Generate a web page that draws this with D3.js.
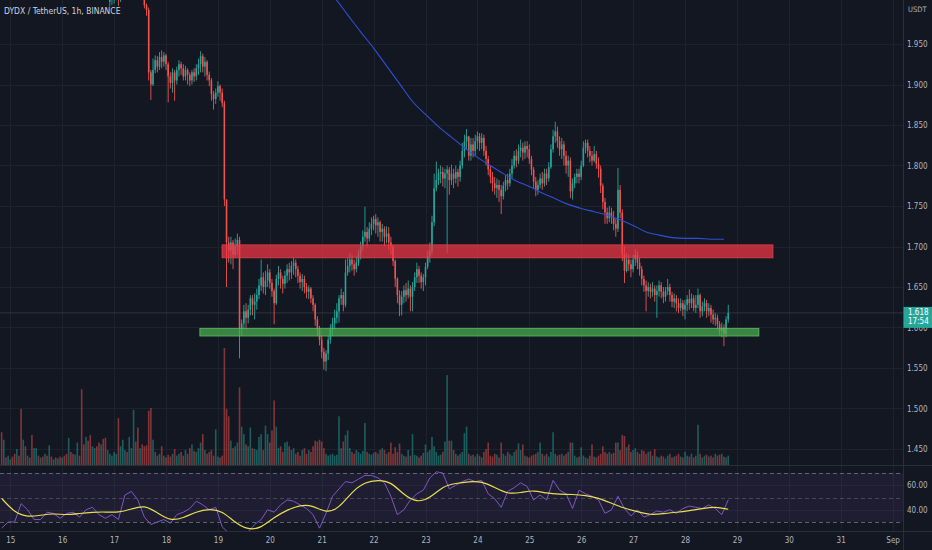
<!DOCTYPE html>
<html>
<head>
<meta charset="utf-8">
<script src="https://cdn.jsdelivr.net/npm/d3@7"></script>
<style>
  html, body { margin: 0; padding: 0; background: #131722; }
  svg { display: block; }
  text { font-family: "Liberation Sans Narrow", "DejaVu Sans Condensed", "Roboto Condensed", "Liberation Sans", sans-serif; }
</style>
</head>
<body>
<div id="chart"></div>
<script>
// ---- data ----
var title = "DYDX / TetherUS, 1h, BINANCE";
var currency = "USDT";
var countdown = "17:54";

// hourly candles, first one at Aug 16 22:00
var firstOpen = 2.002;
var closes = [
  2.005, 2.008, 2.010, 2.012, 2.006, 2.010, 2.015, 2.020, 2.018, 2.022, 2.025, 2.030, 2.018, 2.012, 2.016, 2.010,
  1.998, 1.992, 1.915, 1.900, 1.918, 1.930, 1.922, 1.934, 1.928, 1.936,
  1.925, 1.910, 1.902, 1.915, 1.905, 1.918, 1.925, 1.920, 1.910, 1.918, 1.912, 1.905, 1.915, 1.910, 1.920, 1.925,
  1.935, 1.922, 1.928, 1.912, 1.905, 1.888, 1.882, 1.890, 1.898, 1.890, 1.877, 1.758, 1.705, 1.695, 1.705, 1.690, 1.700, 1.708,
  1.598, 1.605, 1.620, 1.612, 1.622, 1.636, 1.628, 1.632, 1.640, 1.652, 1.662, 1.650, 1.658, 1.668,
  1.655, 1.645, 1.630, 1.660, 1.668, 1.660, 1.654, 1.664, 1.672, 1.668, 1.676, 1.680, 1.672, 1.664, 1.656, 1.660, 1.650, 1.644, 1.648, 1.636, 1.628, 1.610, 1.598, 1.585,
  1.570, 1.558, 1.568, 1.585, 1.598, 1.605, 1.612, 1.620, 1.636, 1.640, 1.628, 1.668, 1.676, 1.684, 1.678, 1.672, 1.680, 1.690, 1.700, 1.712,
  1.718, 1.710, 1.722, 1.728, 1.734, 1.726, 1.730, 1.718, 1.722, 1.712, 1.716, 1.705, 1.700, 1.682, 1.660, 1.640,
  1.628, 1.638, 1.646, 1.640, 1.648, 1.638, 1.650, 1.662, 1.672, 1.664, 1.656, 1.662, 1.675, 1.688, 1.695, 1.730,
  1.772, 1.782, 1.790, 1.792, 1.784, 1.790, 1.795, 1.782, 1.790, 1.784, 1.792, 1.786, 1.800, 1.818, 1.830, 1.836,
  1.812, 1.826, 1.818, 1.830, 1.836, 1.828, 1.834, 1.818, 1.808, 1.795, 1.786, 1.778, 1.772, 1.776, 1.770, 1.762,
  1.775, 1.782, 1.778, 1.790, 1.800, 1.812, 1.806, 1.818, 1.822, 1.816, 1.824, 1.820, 1.808, 1.795, 1.780, 1.770,
  1.776, 1.784, 1.778, 1.790, 1.784, 1.798, 1.820, 1.836, 1.842, 1.830, 1.820, 1.826, 1.812, 1.800, 1.806, 1.768,
  1.778, 1.786, 1.790, 1.786, 1.800, 1.822, 1.828, 1.818, 1.812, 1.806, 1.814, 1.802, 1.796, 1.775, 1.755, 1.742,
  1.735, 1.742, 1.736, 1.728, 1.722, 1.770, 1.742, 1.690, 1.670, 1.684, 1.678, 1.672, 1.684, 1.690, 1.680, 1.672,
  1.660, 1.652, 1.645, 1.650, 1.644, 1.648, 1.640, 1.645, 1.652, 1.644, 1.638, 1.645, 1.650, 1.640, 1.632, 1.636,
  1.630, 1.624, 1.630, 1.622, 1.628, 1.635, 1.630, 1.636, 1.624, 1.628, 1.640, 1.620, 1.626, 1.630, 1.620, 1.624,
  1.616, 1.610, 1.612, 1.604, 1.596, 1.600, 1.592, 1.610, 1.618
];
var highs = [
  2.015, 2.012, 2.020, 2.018, 2.015, 2.016, 2.022, 2.026, 2.025, 2.030, 2.032, 2.034, 2.030, 2.024, 2.024, 2.020,
  2.012, 2.000, 1.995, 1.918, 1.932, 1.936, 1.935, 1.940, 1.942, 1.940,
  1.938, 1.928, 1.915, 1.920, 1.918, 1.922, 1.930, 1.928, 1.925, 1.923, 1.920, 1.915, 1.918, 1.920, 1.925, 1.932,
  1.941, 1.938, 1.934, 1.930, 1.916, 1.908, 1.892, 1.895, 1.904, 1.900, 1.895, 1.880, 1.758, 1.712, 1.712, 1.708, 1.710, 1.716,
  1.712, 1.610, 1.628, 1.630, 1.628, 1.640, 1.640, 1.642, 1.648, 1.660, 1.684, 1.668, 1.670, 1.678,
  1.672, 1.660, 1.648, 1.665, 1.676, 1.672, 1.664, 1.670, 1.678, 1.680, 1.682, 1.686, 1.684, 1.676, 1.668, 1.666, 1.664, 1.655, 1.652, 1.650, 1.640, 1.630, 1.614, 1.602,
  1.590, 1.575, 1.572, 1.590, 1.604, 1.612, 1.622, 1.630, 1.640, 1.648, 1.644, 1.684, 1.686, 1.692, 1.690, 1.684, 1.688, 1.696, 1.706, 1.720,
  1.749, 1.724, 1.730, 1.736, 1.738, 1.740, 1.736, 1.732, 1.728, 1.725, 1.725, 1.724, 1.712, 1.702, 1.684, 1.662,
  1.646, 1.645, 1.652, 1.655, 1.658, 1.652, 1.656, 1.668, 1.680, 1.676, 1.668, 1.666, 1.680, 1.695, 1.705, 1.738,
  1.790, 1.805, 1.796, 1.800, 1.798, 1.796, 1.800, 1.798, 1.801, 1.796, 1.800, 1.796, 1.806, 1.828, 1.838, 1.845,
  1.836, 1.834, 1.834, 1.838, 1.842, 1.840, 1.840, 1.838, 1.824, 1.812, 1.800, 1.792, 1.786, 1.784, 1.782, 1.776,
  1.780, 1.788, 1.790, 1.796, 1.808, 1.818, 1.820, 1.826, 1.832, 1.828, 1.830, 1.830, 1.826, 1.812, 1.798, 1.786,
  1.782, 1.790, 1.792, 1.796, 1.796, 1.804, 1.826, 1.844, 1.854, 1.848, 1.836, 1.834, 1.830, 1.818, 1.812, 1.810,
  1.784, 1.790, 1.796, 1.796, 1.806, 1.830, 1.832, 1.832, 1.824, 1.818, 1.824, 1.818, 1.810, 1.800, 1.778, 1.760,
  1.748, 1.750, 1.748, 1.744, 1.734, 1.797, 1.776, 1.746, 1.700, 1.692, 1.690, 1.684, 1.690, 1.697, 1.694, 1.686,
  1.676, 1.664, 1.658, 1.656, 1.654, 1.656, 1.652, 1.652, 1.658, 1.656, 1.650, 1.650, 1.660, 1.654, 1.644, 1.642,
  1.640, 1.636, 1.636, 1.634, 1.634, 1.640, 1.647, 1.642, 1.640, 1.640, 1.648, 1.642, 1.632, 1.636, 1.634, 1.630,
  1.628, 1.622, 1.618, 1.616, 1.608, 1.606, 1.604, 1.614, 1.628
];
var lows = [
  1.996, 1.998, 2.000, 2.004, 1.997, 2.002, 2.006, 2.012, 2.010, 2.014, 2.017, 2.020, 2.010, 2.006, 2.008, 2.006,
  1.994, 1.985, 1.905, 1.881, 1.898, 1.914, 1.915, 1.918, 1.920, 1.922,
  1.918, 1.878, 1.895, 1.890, 1.880, 1.900, 1.910, 1.912, 1.905, 1.905, 1.900, 1.898, 1.900, 1.903, 1.905, 1.912,
  1.915, 1.915, 1.910, 1.905, 1.898, 1.880, 1.869, 1.876, 1.885, 1.880, 1.872, 1.750, 1.650, 1.680, 1.678, 1.672, 1.686, 1.690,
  1.562, 1.590, 1.598, 1.598, 1.605, 1.615, 1.615, 1.610, 1.622, 1.635, 1.645, 1.642, 1.640, 1.650,
  1.648, 1.638, 1.604, 1.628, 1.652, 1.648, 1.642, 1.648, 1.655, 1.658, 1.660, 1.665, 1.662, 1.655, 1.648, 1.645, 1.642, 1.636, 1.635, 1.630, 1.620, 1.602, 1.590, 1.578,
  1.562, 1.548, 1.546, 1.560, 1.580, 1.590, 1.598, 1.605, 1.606, 1.628, 1.620, 1.625, 1.664, 1.668, 1.670, 1.664, 1.668, 1.676, 1.684, 1.695,
  1.706, 1.700, 1.706, 1.714, 1.720, 1.716, 1.712, 1.706, 1.706, 1.700, 1.704, 1.696, 1.690, 1.676, 1.650, 1.630,
  1.614, 1.615, 1.630, 1.632, 1.636, 1.620, 1.620, 1.645, 1.655, 1.655, 1.648, 1.645, 1.652, 1.672, 1.680, 1.690,
  1.725, 1.768, 1.776, 1.778, 1.774, 1.772, 1.692, 1.764, 1.776, 1.772, 1.778, 1.774, 1.780, 1.796, 1.810, 1.820,
  1.806, 1.806, 1.810, 1.812, 1.820, 1.818, 1.820, 1.812, 1.800, 1.788, 1.778, 1.768, 1.764, 1.760, 1.755, 1.740,
  1.758, 1.768, 1.770, 1.774, 1.784, 1.796, 1.798, 1.802, 1.810, 1.806, 1.808, 1.810, 1.802, 1.788, 1.772, 1.762,
  1.764, 1.772, 1.770, 1.774, 1.776, 1.780, 1.796, 1.816, 1.828, 1.822, 1.812, 1.808, 1.800, 1.790, 1.786, 1.760,
  1.758, 1.772, 1.778, 1.778, 1.782, 1.798, 1.815, 1.810, 1.804, 1.800, 1.804, 1.796, 1.785, 1.766, 1.746, 1.728,
  1.728, 1.730, 1.728, 1.720, 1.712, 1.718, 1.735, 1.682, 1.655, 1.668, 1.670, 1.662, 1.668, 1.676, 1.672, 1.664,
  1.652, 1.644, 1.620, 1.638, 1.636, 1.638, 1.632, 1.612, 1.638, 1.636, 1.630, 1.632, 1.640, 1.632, 1.625, 1.624,
  1.620, 1.618, 1.620, 1.614, 1.610, 1.620, 1.622, 1.624, 1.620, 1.618, 1.624, 1.612, 1.614, 1.620, 1.612, 1.614,
  1.606, 1.604, 1.602, 1.598, 1.590, 1.588, 1.577, 1.588, 1.606
];

// hourly volume, first bar at Aug 14 20:00 (thousands)
var volumes = [
  35, 27, 8, 10, 6, 9, 12, 17, 10, 60, 27, 20, 10, 8, 32, 18, 18, 10, 8, 9, 12, 10, 21, 9,
  6, 8, 7, 9, 8, 10, 12, 29, 14, 12, 11, 24, 10, 81, 22, 30, 26, 32, 20, 18, 20, 24, 22, 28,
  29, 16, 12, 10, 14, 12, 50, 20, 27, 16, 14, 30, 18, 59, 25, 40, 18, 22, 20, 21, 58, 61, 27, 14,
  10, 12, 20, 10, 8, 11, 9, 12, 17, 10, 12, 14, 10, 16, 12, 18, 22, 15, 14, 18, 24, 33, 16, 12,
  14, 16, 10, 38, 9, 8, 10, 125, 60, 52, 26, 18, 20, 24, 83, 41, 33, 22, 20, 40, 18, 17, 16, 30,
  33, 16, 42, 33, 24, 37, 69, 41, 18, 20, 14, 24, 25, 20, 16, 18, 12, 14, 10, 16, 18, 12, 16, 14,
  20, 26, 25, 27, 25, 18, 12, 10, 11, 12, 10, 11, 52, 18, 25, 32, 37, 18, 14, 12, 16, 14, 12, 15,
  45, 14, 12, 11, 13, 14, 12, 16, 18, 16, 12, 14, 24, 12, 19, 14, 23, 12, 10, 9, 16, 10, 33, 11,
  10, 8, 10, 13, 22, 14, 16, 30, 20, 14, 10, 11, 14, 25, 96, 26, 26, 16, 12, 10, 12, 14, 34, 41,
  12, 10, 11, 9, 12, 10, 8, 14, 17, 24, 10, 9, 12, 11, 8, 24, 12, 10, 14, 12, 10, 14, 16, 23,
  16, 22, 10, 9, 8, 10, 11, 12, 14, 24, 12, 10, 12, 9, 14, 35, 12, 10, 11, 12, 10, 12, 14, 24,
  24, 10, 8, 9, 19, 10, 8, 7, 10, 22, 9, 8, 10, 12, 20, 14, 12, 14, 12, 13, 24, 24, 16, 32,
  31, 19, 22, 14, 16, 18, 14, 12, 16, 15, 12, 14, 15, 10, 17, 9, 8, 10, 9, 7, 10, 12, 8, 9,
  10, 12, 9, 8, 14, 10, 9, 12, 8, 10, 43, 12, 8, 10, 11, 9, 10, 8, 12, 10, 11, 12, 9, 8, 10
];
// direction of the volume bars that come before the first candle
var earlyDir = "duduuddudd" + "ududduudud" + "ududududud" + "dudduudddu" + "dduudduddu";

// RSI(14) every 3 hours from Aug 14 20:00
var rsiValues = [
  25, 30, 30, 45, 40, 32, 32, 38, 37, 33,
  37, 38, 34, 40, 42, 36, 33, 36, 32, 52,
  55, 48, 34, 28, 30, 32, 29, 36, 38, 41,
  47, 44, 40, 42, 26, 21, 18, 19, 22, 28,
  32, 40, 38, 44, 48, 47, 44, 41, 36, 25,
  37, 51, 57, 63, 62, 65, 68, 68, 66, 62,
  51, 36, 40, 48, 53, 56, 66, 71, 70, 57,
  60, 63, 65, 63, 64, 53, 49, 42, 55, 58,
  62, 59, 48, 52, 48, 64, 56, 53, 41, 56,
  53, 51, 48, 37, 40, 51, 41, 35, 40, 34,
  36, 39, 38, 40, 37, 41, 43, 42, 41, 44,
  41, 36, 48
];
// RSI moving average every 6 hours from Aug 14 20:00
var rsiMaValues = [
  49.3, 37.6, 34, 35.5, 37, 35.7, 37, 38, 38.3, 37.6,
  40.5, 43.9, 37.6, 30.8, 33.2, 38.5, 40.8, 39.2, 29.4, 23.5,
  25, 34, 39.8, 43.9, 43.6, 37.1, 41.2, 54.8, 62.6, 64.3,
  62.9, 52.1, 45.8, 49.3, 59.3, 61.6, 63, 63.2, 58.3, 52.8,
  53.9, 56.1, 53.4, 52.6, 52.6, 51.8, 49.6, 45.3, 41.2, 38.4,
  35.7, 36.8, 37.9, 39.3, 40.9, 42.5, 40.4
];
// long moving average on price, every 6 hours from Aug 21 00:00
var smaValues = [
  2.022, 2.007, 1.986, 1.965, 1.945, 1.923, 1.901, 1.879, 1.863, 1.848, 1.835, 1.822, 1.810, 1.800, 1.790, 1.781,
  1.774, 1.766, 1.759, 1.752, 1.747, 1.743, 1.739, 1.733, 1.726, 1.718, 1.714, 1.711, 1.710, 1.710, 1.709, 1.709
];

// the two drawn zones
var resistanceZone = { top: 1.702, bottom: 1.686, from: new Date(2022, 7, 19, 1, 54), to: new Date(2022, 7, 29, 16, 40) };
var supportZone = { top: 1.599, bottom: 1.5895, from: new Date(2022, 7, 18, 15, 40), to: new Date(2022, 7, 29, 10, 10) };

var priceTicks = [1.45, 1.5, 1.55, 1.6, 1.65, 1.7, 1.75, 1.8, 1.85, 1.9, 1.95];
var rsiTicks = [40, 60];
var rsiLevels = [70, 50, 30];
var dayLabels = ["15", "16", "17", "18", "19", "20", "21", "22", "23", "24", "25", "26", "27", "28", "29", "30", "31", "Sep"];

// ---- layout ----
var width = 932, height = 550;
var axisX = 903;
var priceBottom = 465, rsiTop = 466, rsiBottom = 531;
var green = "#26a69a", red = "#ef5350";
var textColor = "#b2b5be";

var svg = d3.select("#chart")
  .append("svg")
  .attr("width", width)
  .attr("height", height);

svg.append("rect").attr("width", width).attr("height", height).attr("fill", "#131722");

var defs = svg.append("defs");
defs.append("clipPath").attr("id", "clipPrice")
  .append("rect").attr("x", 0).attr("y", 0).attr("width", axisX).attr("height", priceBottom);
defs.append("clipPath").attr("id", "clipRsi")
  .append("rect").attr("x", 0).attr("y", rsiTop).attr("width", axisX).attr("height", rsiBottom - rsiTop);

// scales
var x = d3.scaleTime()
  .domain([new Date(2022, 7, 15), new Date(2022, 8, 1)])
  .range([10.3, 892.6]);
var y = d3.scaleLinear().domain([1.45, 1.95]).range([449, 44]);
var yVol = d3.scaleLinear().domain([0, 125]).range([priceBottom, 348]);
var yRsi = d3.scaleLinear().domain([30, 70]).range([522, 473]);

// build series
var candleStart = new Date(2022, 7, 16, 22);
var volStart = new Date(2022, 7, 14, 20);
var smaStart = new Date(2022, 7, 21, 0);
var candles = closes.map(function (c, i) {
  return { t: d3.timeHour.offset(candleStart, i), o: i ? closes[i - 1] : firstOpen, h: highs[i], l: lows[i], c: c };
});
var shift = d3.timeHour.count(volStart, candleStart);
var vols = volumes.map(function (v, j) {
  var k = j - shift;
  var up = k >= 0 && candles[k] ? candles[k].c >= candles[k].o : earlyDir[j] === "u";
  return { t: d3.timeHour.offset(volStart, j), v: v, up: up };
});
var rsi = rsiValues.map(function (v, k) { return { t: d3.timeHour.offset(volStart, 3 * k), v: v }; });
var rsiMa = rsiMaValues.map(function (v, k) { return { t: d3.timeHour.offset(volStart, 6 * k), v: v }; });
var sma = smaValues.map(function (v, k) { return { t: d3.timeHour.offset(smaStart, 6 * k), v: v }; });
var dayDates = dayLabels.map(function (d, i) { return d3.timeDay.offset(new Date(2022, 7, 15), i); });

// grid
var grid = svg.append("g").attr("stroke", "#1e222d").attr("stroke-width", 1);
grid.selectAll("line.h").data(priceTicks).enter().append("line")
  .attr("x1", 0).attr("x2", axisX)
  .attr("y1", function (d) { return Math.round(y(d)) + 0.5; })
  .attr("y2", function (d) { return Math.round(y(d)) + 0.5; });
grid.selectAll("line.r").data(rsiTicks).enter().append("line")
  .attr("x1", 0).attr("x2", axisX)
  .attr("y1", function (d) { return Math.round(yRsi(d)) + 0.5; })
  .attr("y2", function (d) { return Math.round(yRsi(d)) + 0.5; });
grid.selectAll("line.v").data(dayDates).enter().append("line")
  .attr("x1", function (d) { return Math.round(x(d)) + 0.5; })
  .attr("x2", function (d) { return Math.round(x(d)) + 0.5; })
  .attr("y1", 0).attr("y2", rsiBottom);

// ---- price pane ----
var price = svg.append("g").attr("clip-path", "url(#clipPrice)");

// volume
price.append("g").selectAll("rect").data(vols).enter().append("rect")
  .attr("x", function (d) { return x(d.t) - 0.8; })
  .attr("width", 1.6)
  .attr("y", function (d) { return yVol(d.v); })
  .attr("height", function (d) { return priceBottom - yVol(d.v); })
  .attr("fill", function (d) { return d.up ? green : red; })
  .attr("fill-opacity", 0.5);

// current price line
var last = candles[candles.length - 1];
price.append("line")
  .attr("x1", 0).attr("x2", axisX)
  .attr("y1", y(last.c)).attr("y2", y(last.c))
  .attr("stroke", "#5d606b").attr("stroke-opacity", 0.5).attr("stroke-width", 0.8);

// candles
var cg = price.append("g").selectAll("g").data(candles).enter().append("g")
  .attr("fill", function (d) { return d.c >= d.o ? green : red; });
cg.append("rect")
  .attr("x", function (d) { return x(d.t) - 0.45; })
  .attr("width", 0.9)
  .attr("y", function (d) { return y(d.h); })
  .attr("height", function (d) { return Math.max(0.5, y(d.l) - y(d.h)); });
cg.append("rect")
  .attr("x", function (d) { return x(d.t) - 0.8; })
  .attr("width", 1.6)
  .attr("y", function (d) { return y(Math.max(d.o, d.c)); })
  .attr("height", function (d) { return Math.max(0.7, Math.abs(y(d.o) - y(d.c))); });

// long moving average
price.append("path").datum(sma)
  .attr("fill", "none")
  .attr("stroke", "#2f4fd6")
  .attr("stroke-width", 1.1)
  .attr("d", d3.line().curve(d3.curveMonotoneX)
    .x(function (d) { return x(d.t); })
    .y(function (d) { return y(d.v); }));

// zones
function zone(z, fill, stroke) {
  price.append("rect")
    .attr("x", x(z.from))
    .attr("y", y(z.top))
    .attr("width", x(z.to) - x(z.from))
    .attr("height", y(z.bottom) - y(z.top))
    .attr("fill", fill)
    .attr("fill-opacity", 0.72)
    .attr("stroke", stroke)
    .attr("stroke-width", 0.8);
}
zone(resistanceZone, "#f23645", "#e0404e");
zone(supportZone, "#4caf50", "#5cc060");

// ---- RSI pane ----
var rp = svg.append("g").attr("clip-path", "url(#clipRsi)");
rp.append("rect")
  .attr("x", 0).attr("width", axisX)
  .attr("y", yRsi(70)).attr("height", yRsi(30) - yRsi(70))
  .attr("fill", "#7e57c2").attr("fill-opacity", 0.1);
rp.selectAll("line.lvl").data(rsiLevels).enter().append("line")
  .attr("x1", 0).attr("x2", axisX)
  .attr("y1", function (d) { return Math.round(yRsi(d)) + 0.5; })
  .attr("y2", function (d) { return Math.round(yRsi(d)) + 0.5; })
  .attr("stroke", "#787b86")
  .attr("stroke-opacity", function (d) { return d === 50 ? 0.45 : 0.75; })
  .attr("stroke-dasharray", "4,3");
rp.append("path").datum(rsi)
  .attr("fill", "none").attr("stroke", "#7e57c2").attr("stroke-width", 1)
  .attr("d", d3.line()
    .x(function (d) { return x(d.t); })
    .y(function (d) { return yRsi(d.v); }));
rp.append("path").datum(rsiMa)
  .attr("fill", "none").attr("stroke", "#e8df52").attr("stroke-width", 1.2)
  .attr("d", d3.line().curve(d3.curveBasis)
    .x(function (d) { return x(d.t); })
    .y(function (d) { return yRsi(d.v); }));

// pane borders
svg.append("line").attr("x1", 0).attr("x2", width).attr("y1", priceBottom + 0.5).attr("y2", priceBottom + 0.5).attr("stroke", "#2a2e39");
svg.append("line").attr("x1", 0).attr("x2", width).attr("y1", rsiBottom + 0.5).attr("y2", rsiBottom + 0.5).attr("stroke", "#2a2e39");
svg.append("line").attr("x1", axisX + 0.5).attr("x2", axisX + 0.5).attr("y1", 0).attr("y2", height).attr("stroke", "#2a2e39");

// ---- axes ----
var yAxis = svg.append("g")
  .attr("transform", "translate(" + axisX + ",0)")
  .call(d3.axisRight(y).tickValues(priceTicks).tickFormat(d3.format(".3f")).tickSize(0).tickPadding(4));
var rsiAxis = svg.append("g")
  .attr("transform", "translate(" + axisX + ",0)")
  .call(d3.axisRight(yRsi).tickValues(rsiTicks).tickFormat(d3.format(".2f")).tickSize(0).tickPadding(4));
var xAxis = svg.append("g")
  .attr("transform", "translate(0," + (rsiBottom + 1) + ")")
  .call(d3.axisBottom(x).tickValues(dayDates).tickFormat(function (d, i) { return dayLabels[i]; }).tickSize(0).tickPadding(5));
[yAxis, rsiAxis, xAxis].forEach(function (a) {
  a.select(".domain").remove();
  a.selectAll("text").attr("fill", textColor).style("font-size", "8px")
    .style("font-family", "'Liberation Sans Narrow', 'DejaVu Sans Condensed', 'Liberation Sans', sans-serif");
});
yAxis.selectAll("text").attr("text-anchor", "start");

// last price tag (the 1.600 label sits behind it, as on the original)
var tagY = y(last.c);
svg.append("rect").attr("x", axisX + 0.5).attr("y", tagY - 6).attr("width", width - axisX).attr("height", 21).attr("fill", green);
svg.append("text").attr("x", axisX + 5).attr("y", tagY + 2.5).text(d3.format(".3f")(last.c))
  .attr("fill", "#ffffff").style("font-size", "8px");
svg.append("text").attr("x", axisX + 5).attr("y", tagY + 11.5).text(countdown)
  .attr("fill", "#ffffff").style("font-size", "8px");

// labels
svg.append("text").attr("x", axisX + 5).attr("y", 12).text(currency)
  .attr("fill", textColor).style("font-size", "7.5px");
svg.append("text").attr("x", 4).attr("y", 14).text(title)
  .attr("fill", "#d1d4dc").style("font-size", "8.5px");
</script>
</body>
</html>
